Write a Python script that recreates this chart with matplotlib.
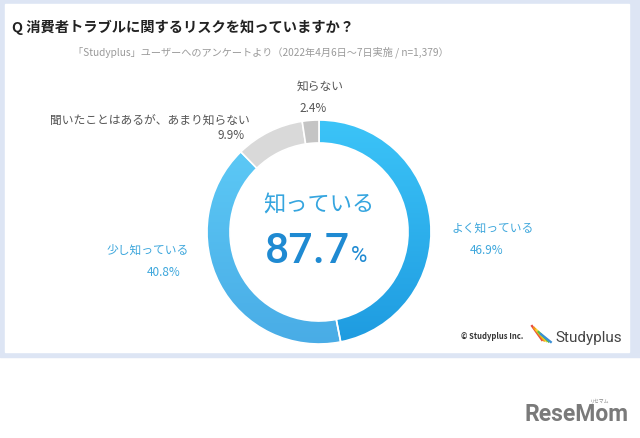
import numpy as np
import matplotlib
matplotlib.use("Agg")
import matplotlib.pyplot as plt
from matplotlib.colors import LinearSegmentedColormap

plt.rcParams['font.family'] = ['Noto Sans CJK JP', 'DejaVu Sans']

# data
labels = ["よく知っている", "少し知っている", "聞いたことはあるが、あまり知らない", "知らない"]
values = [46.9, 40.8, 9.9, 2.4]
known_total = 87.7

title = "Q 消費者トラブルに関するリスクを知っていますか？"
subtitle = "「Studyplus」ユーザーへのアンケートより（2022年4月6日～7日実施 / n=1,379）"

W, H = 640, 439
fig = plt.figure(figsize=(W / 100, H / 100), dpi=100)

# background in pixel coords
bg = fig.add_axes([0, 0, 1, 1])
bg.set_xlim(0, W)
bg.set_ylim(H, 0)
bg.axis("off")
bg.add_patch(plt.Rectangle((0, 0), W, 358, color="#dde5f4", zorder=0))
bg.add_patch(plt.Rectangle((5, 5), 624, 348, color="white", zorder=1))

bg.text(12, 27, title, fontsize=10.3, fontweight="bold", color="#222222", va="center", zorder=3)
bg.text(261, 52, subtitle, fontsize=7.3, color="#9a9a9a", va="center", ha="center", zorder=3)

# donut
cx, cy, r = 319, 233, 112
ax = fig.add_axes([(cx - r) / W, (H - cy - r) / H, 2 * r / W, 2 * r / H])
wedges, _ = ax.pie(values, startangle=90, counterclock=False,
                   colors=["#2fb4f0", "#55c2f2", "#d9d9d9", "#c4c4c4"],
                   wedgeprops=dict(width=0.205, edgecolor="white", linewidth=1.2))
ax.set_xlim(-1, 1)
ax.set_ylim(-1, 1)

# gradient fills for the blue wedges (light at top, darker at bottom)
grad = np.linspace(0, 1, 256).reshape(-1, 1)
cmaps = [LinearSegmentedColormap.from_list("a", ["#3cc4f8", "#1e9be0"]),
         LinearSegmentedColormap.from_list("b", ["#5fcdf8", "#49ace6"])]
for w, cm in zip(wedges[:2], cmaps):
    im = ax.imshow(grad, cmap=cm, extent=(-1, 1, -1, 1), origin="upper", aspect="auto", zorder=0.5)
    im.set_clip_path(w)
    w.set_facecolor("none")
    w.set_zorder(1)

# center text
bg.text(cx, 205, "知っている", fontsize=16, color="#35a5df", ha="center", va="center", zorder=3)
bg.text(350, 252, f"{known_total}", fontsize=31, color="#1f8ad2", ha="right", va="center",
        family="Roboto", fontweight="medium", zorder=3)
bg.text(351, 257, "%", fontsize=16, color="#1f8ad2", ha="left", va="center", family="Roboto", zorder=3)

# labels
gray = "#555555"
blue = "#3ea7dc"
bg.text(320, 86, labels[3], fontsize=8.5, color=gray, ha="center", va="center", zorder=3)
bg.text(313, 109, f"{values[3]}%", fontsize=8.5, color=gray, ha="center", va="center", zorder=3)
bg.text(250, 120, labels[2], fontsize=8.5, color=gray, ha="right", va="center", zorder=3)
bg.text(245, 136, f"{values[2]}%", fontsize=8.5, color=gray, ha="right", va="center", zorder=3)
bg.text(148, 250, labels[1], fontsize=8.5, color=blue, ha="center", va="center", zorder=3)
bg.text(164, 273, f"{values[1]}%", fontsize=8.5, color=blue, ha="center", va="center", zorder=3)
bg.text(493, 228, labels[0], fontsize=8.5, color=blue, ha="center", va="center", zorder=3)
bg.text(487, 251, f"{values[0]}%", fontsize=8.5, color=blue, ha="center", va="center", zorder=3)

# credit and logo
bg.text(461, 337, "© Studyplus Inc.", fontsize=5.5, fontweight="bold", color="#333333", va="center", zorder=3)
stripe_cols = ["#e84c3d", "#f39c12", "#f1d32f", "#5cbf4a", "#3a8fd6"]
for i, c in enumerate(stripe_cols):
    bg.plot([532 + i * 2.2, 542 + i * 2.2], [327 + i * 2, 341 + i * 0.5], color=c, lw=1.6, zorder=3)
bg.text(555, 338, "Studyplus", fontsize=11, color="#444444", va="center", family="Roboto", zorder=3)

bg.text(577, 415, "ReseMom", fontsize=16.5, fontweight="bold", color="#7a7a7a", ha="center", va="center",
        family="Roboto", zorder=3)
bg.text(600, 401, "リセマム", fontsize=3.5, color="#888888", ha="center", va="center", zorder=3)

fig.savefig("out.png", dpi=100)
